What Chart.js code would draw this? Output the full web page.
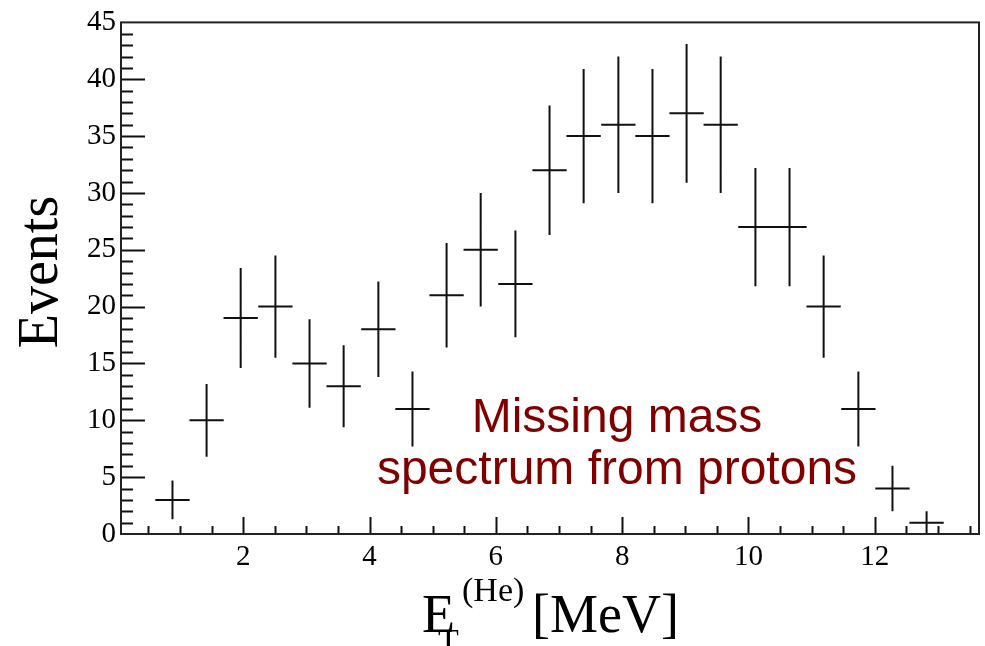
<!DOCTYPE html>
<html>
<head>
<meta charset="utf-8">
<script src="https://cdn.jsdelivr.net/npm/chart.js@4"></script>
<style>
  html, body { margin: 0; padding: 0; background: #fff; }
  #wrap { width: 985px; height: 646px; }
</style>
</head>
<body>
<div id="wrap"><canvas id="chart" width="985" height="646"></canvas></div>
<script>
// histogram bins (MeV) and counts
const binCenters = [0.88, 1.42, 1.96, 2.51, 3.05, 3.59, 4.14, 4.68, 5.22, 5.76, 6.31, 6.85,
                    7.39, 7.94, 8.48, 9.02, 9.56, 10.11, 10.65, 11.19, 11.74, 12.28, 12.82];
const binWidth = 0.543;
const events = [3, 10, 19, 20, 15, 13, 18, 11, 21, 25, 22, 32,
                35, 36, 35, 37, 36, 27, 27, 20, 11, 4, 1];
const errors = [1.7, 3.2, 4.4, 4.5, 3.9, 3.6, 4.2, 3.3, 4.6, 5.0, 4.7, 5.7,
                5.9, 6.0, 5.9, 6.1, 6.0, 5.2, 5.2, 4.5, 3.3, 2.0, 1.0];
const xTickLabels = [2, 4, 6, 8, 10, 12];
const yTickLabels = [0, 5, 10, 15, 20, 25, 30, 35, 40, 45];
const note = ['Missing mass', 'spectrum from protons'];

const serif = '"Liberation Serif", "DejaVu Serif", serif';
const ink = '#111';

// ROOT style crosses, inward ticks, frame and axis titles
const rootStyle = {
  id: 'rootStyle',
  afterDatasetsDraw(chart) {
    const ctx = chart.ctx;
    const xs = chart.scales.x, ys = chart.scales.y;
    const a = chart.chartArea;

    ctx.save();
    ctx.strokeStyle = ink;
    ctx.lineWidth = 2;
    ctx.beginPath();
    binCenters.forEach((c, i) => {
      const px = xs.getPixelForValue(c);
      const py = ys.getPixelForValue(events[i]);
      ctx.moveTo(xs.getPixelForValue(c - binWidth / 2), py);
      ctx.lineTo(xs.getPixelForValue(c + binWidth / 2), py);
      ctx.moveTo(px, ys.getPixelForValue(events[i] + errors[i]));
      ctx.lineTo(px, ys.getPixelForValue(Math.max(0, events[i] - errors[i])));
    });
    ctx.stroke();

    // ticks
    ctx.beginPath();
    for (let v = 0.5; v < xs.max; v += 0.5) {
      const px = Math.round(xs.getPixelForValue(v)) + 0.5;
      const len = (v % 2 === 0) ? 17 : 8;
      ctx.moveTo(px, a.bottom);
      ctx.lineTo(px, a.bottom - len);
    }
    for (let v = 1; v < ys.max; v += 1) {
      const py = Math.round(ys.getPixelForValue(v)) + 0.5;
      const len = (v % 5 === 0) ? 24 : 12;
      ctx.moveTo(a.left, py);
      ctx.lineTo(a.left + len, py);
    }
    ctx.stroke();

    // frame
    ctx.strokeStyle = '#222';
    ctx.strokeRect(a.left, a.top, a.right - a.left, a.bottom - a.top);

    // note
    ctx.fillStyle = '#800000';
    ctx.font = '48px "Liberation Sans", Arial, sans-serif';
    ctx.textAlign = 'center';
    ctx.textBaseline = 'alphabetic';
    ctx.fillText(note[0], 617, 432);
    ctx.fillText(note[1], 617, 484);

    // axis titles
    ctx.fillStyle = '#000';
    ctx.save();
    ctx.translate(57, 272);
    ctx.rotate(-Math.PI / 2);
    ctx.font = '56px ' + serif;
    ctx.fillText('Events', 0, 0);
    ctx.restore();

    ctx.textAlign = 'left';
    ctx.font = '54px ' + serif;
    ctx.fillText('E', 422, 632);
    ctx.font = '34px ' + serif;
    ctx.fillText('T', 438, 652);
    ctx.fillText('(He)', 462, 601);
    ctx.font = '54px ' + serif;
    ctx.fillText('[MeV]', 532, 632);
    ctx.restore();
  }
};

new Chart(document.getElementById('chart'), {
  type: 'scatter',
  data: {
    datasets: [{
      data: binCenters.map((c, i) => ({ x: c, y: events[i] })),
      pointRadius: 0,
      showLine: false
    }]
  },
  options: {
    responsive: false,
    animation: false,
    layout: { padding: { top: 17, right: 6, left: 0, bottom: 0 } },
    plugins: { legend: { display: false }, tooltip: { enabled: false } },
    scales: {
      x: {
        type: 'linear',
        min: 0.065,
        max: 13.65,
        afterBuildTicks: s => { s.ticks = xTickLabels.map(v => ({ value: v })); },
        afterFit: s => { s.height = 112; },
        grid: { display: false, drawTicks: false },
        border: { display: false },
        ticks: { color: '#000', font: { family: serif, size: 29 }, padding: 6, maxRotation: 0 }
      },
      y: {
        min: 0,
        max: 45,
        afterBuildTicks: s => { s.ticks = yTickLabels.map(v => ({ value: v })); },
        afterFit: s => { s.width = 121; },
        grid: { display: false, drawTicks: false },
        border: { display: false },
        ticks: { color: '#000', font: { family: serif, size: 29 }, padding: 5 }
      }
    }
  },
  plugins: [rootStyle]
});
</script>
</body>
</html>
